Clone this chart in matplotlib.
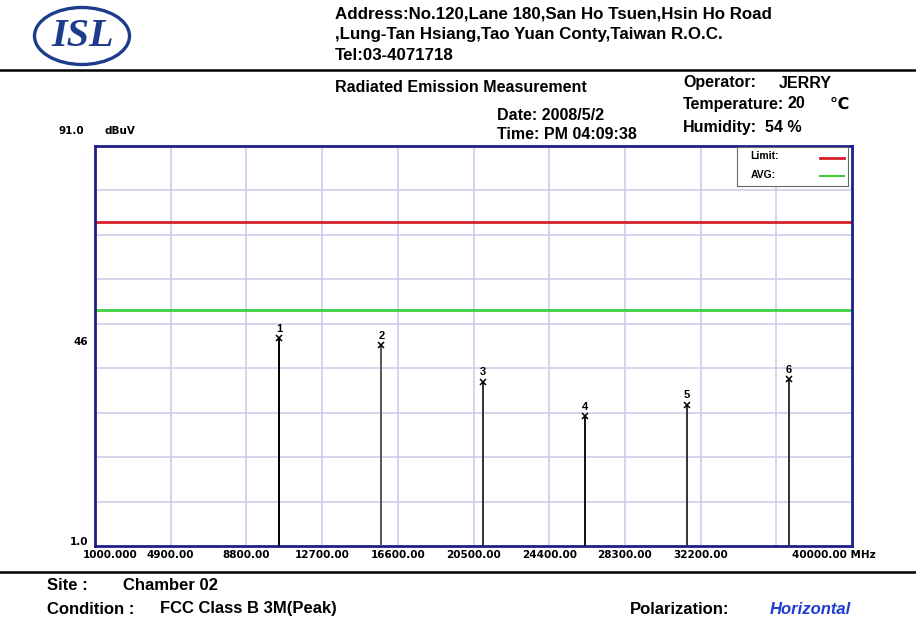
import matplotlib
matplotlib.use("Agg")
import matplotlib.pyplot as plt
from matplotlib.patches import Ellipse
from matplotlib.lines import Line2D

# ---- data ----
freqs = [10500, 15750, 21000, 26250, 31500, 36750]
levels = [47.8, 46.2, 38.0, 30.2, 32.8, 38.6]
marker_ids = ["1", "2", "3", "4", "5", "6"]
stem_colors = ["#000000", "#555555", "#333333", "#111111", "#333333", "#333333"]
limit_level = 74.0
avg_level = 54.0
x_min, x_max = 1000.0, 40000.0
y_min, y_max = 1.0, 91.0
x_ticks = [1000, 4900, 8800, 12700, 16600, 20500, 24400, 28300, 32200, 36100, 40000]
x_tick_labels = ["1000.000", "4900.00", "8800.00", "12700.00", "16600.00", "20500.00",
                 "24400.00", "28300.00", "32200.00", "", "40000.00 MHz"]
y_grid = [1, 11, 21, 31, 41, 51, 61, 71, 81, 91]
y_tick_labels = {1: "1.0", 46: "46", 91: "91.0"}

W, H = 916, 622
fig = plt.figure(figsize=(W / 100, H / 100), dpi=100)
fig.patch.set_facecolor("white")

def fx(px):
    return px / W

def fy(py):
    return 1 - py / H

ax = fig.add_axes([fx(95), fy(546), fx(852) - fx(95), fy(146) - fy(546)])
ax.set_xlim(x_min, x_max)
ax.set_ylim(y_min, y_max)

grid_c = "#cdcde8"
for xt in x_ticks[1:-1]:
    ax.axvline(xt, color=grid_c, lw=1.2, zorder=1)
for yt in y_grid[1:-1]:
    ax.axhline(yt, color=grid_c, lw=1.2, zorder=1)

ax.axhline(limit_level, color="#d62028", lw=2.0, zorder=2)
ax.axhline(avg_level, color="#3ed23e", lw=2.0, zorder=2)

for f, v, mid, sc in zip(freqs, levels, marker_ids, stem_colors):
    ax.vlines(f, y_min, v, color=sc, lw=1.4, zorder=3)
    ax.plot([f], [v], marker="x", color="black", ms=5, mew=1.1, zorder=4)
    ax.annotate(mid, (f, v), xytext=(0, 3.0), textcoords="offset points",
                ha="center", va="bottom", fontsize=8, fontweight="bold",
                family=["Liberation Sans"], zorder=5)

for s in ax.spines.values():
    s.set_color("#1e1e8c")
    s.set_linewidth(2.0)
ax.set_xticks(x_ticks)
ax.set_xticklabels([])
ax.set_yticks([])
ax.tick_params(axis="x", length=0)

tick_font = dict(fontsize=7.5, fontweight="bold", family=["Liberation Sans Narrow", "DejaVu Sans"])
xt_trans = ax.get_xaxis_transform()
for i, (xt, lab) in enumerate(zip(x_ticks, x_tick_labels)):
    if not lab:
        continue
    dx = 0
    if i == 0:
        dx = 11
    if i == len(x_ticks) - 1:
        dx = -13
    ax.annotate(lab, (xt, 0), xycoords=xt_trans, xytext=(dx, -3), textcoords="offset points",
                ha="center", va="top", **tick_font)

yt_trans = ax.get_yaxis_transform()
for yv, lab in y_tick_labels.items():
    if yv == 91:
        ax.annotate(lab, (0, yv), xycoords=yt_trans, xytext=(-8, 11), textcoords="offset points",
                    ha="right", va="center", **tick_font)
        ax.annotate("dBuV", (0, yv), xycoords=yt_trans, xytext=(7, 11), textcoords="offset points",
                    ha="left", va="center", **tick_font)
    else:
        ax.annotate(lab, (0, yv), xycoords=yt_trans, xytext=(-5, 3),
                    textcoords="offset points", ha="right", va="center", **tick_font)

# legend box
leg_ax = fig.add_axes([fx(737), fy(186), fx(848) - fx(737), fy(147) - fy(186)])
leg_ax.set_xlim(0, 1)
leg_ax.set_ylim(0, 1)
leg_ax.set_xticks([])
leg_ax.set_yticks([])
for s in leg_ax.spines.values():
    s.set_color("#666666")
    s.set_linewidth(0.8)
leg_ax.text(0.12, 0.76, "Limit:", fontsize=7.5, fontweight="bold", va="center", family=["Liberation Sans"])
leg_ax.text(0.12, 0.27, "AVG:", fontsize=7.5, fontweight="bold", va="center", family=["Liberation Sans"])
leg_ax.plot([0.75, 0.96], [0.72, 0.72], color="#d62028", lw=2.0)
leg_ax.plot([0.75, 0.96], [0.26, 0.26], color="#3ed23e", lw=1.5)

# header
hdr = dict(fontsize=12.2, fontweight="bold", family=["Liberation Sans", "DejaVu Sans"], va="center", ha="left")
fig.text(fx(335), fy(14), "Address:No.120,Lane 180,San Ho Tsuen,Hsin Ho Road", **hdr)
fig.text(fx(335), fy(35), ",Lung-Tan Hsiang,Tao Yuan Conty,Taiwan R.O.C.", **hdr)
fig.text(fx(335), fy(55), "Tel:03-4071718", **hdr)

# logo
fig.patches.append(Ellipse((fx(82), fy(36)), fx(95), 57 / H, transform=fig.transFigure,
                           fill=False, ec="#1e3c8c", lw=2.4))
fig.text(fx(83), fy(37), "ISL", fontsize=29, fontweight="bold", style="italic",
         family=["Liberation Serif", "DejaVu Serif"], color="#1e3c8c", ha="center", va="center")

fig.add_artist(Line2D([0, 1], [fy(70), fy(70)], color="black", lw=1.8, transform=fig.transFigure))
fig.add_artist(Line2D([0, 1], [fy(572), fy(572)], color="black", lw=1.8, transform=fig.transFigure))

info = dict(fontsize=11.5, fontweight="bold", family=["Liberation Sans", "DejaVu Sans"], va="center", ha="left")
fig.text(fx(335), fy(88), "Radiated Emission Measurement", **info)
fig.text(fx(497), fy(116), "Date: 2008/5/2", **info)
fig.text(fx(497), fy(135), "Time: PM 04:09:38", **info)
fig.text(fx(683), fy(83), "Operator:", **info)
fig.text(fx(779), fy(83), "JERRY", **info)
fig.text(fx(683), fy(104), "Temperature:", **info)
fig.text(fx(788), fy(104), "20", **info)
fig.text(fx(830), fy(104), "\u2103", **info)
fig.text(fx(683), fy(127), "Humidity:", **info)
fig.text(fx(765), fy(127), "54 %", **info)

foot = dict(fontsize=12, fontweight="bold", family=["Liberation Sans", "DejaVu Sans"], va="center", ha="left")
fig.text(fx(47), fy(586), "Site :", **foot)
fig.text(fx(123), fy(586), "Chamber 02", **foot)
fig.text(fx(47), fy(609), "Condition :", **foot)
fig.text(fx(160), fy(609), "FCC Class B 3M(Peak)", **foot)
fig.text(fx(630), fy(609), "Polarization:", **foot)
fig.text(fx(770), fy(609), "Horizontal", fontsize=12, fontweight="bold", style="italic",
         family=["Liberation Sans", "DejaVu Sans"], color="#1f3cd2", va="center", ha="left")

fig.savefig("out.png", dpi=100, facecolor="white")
